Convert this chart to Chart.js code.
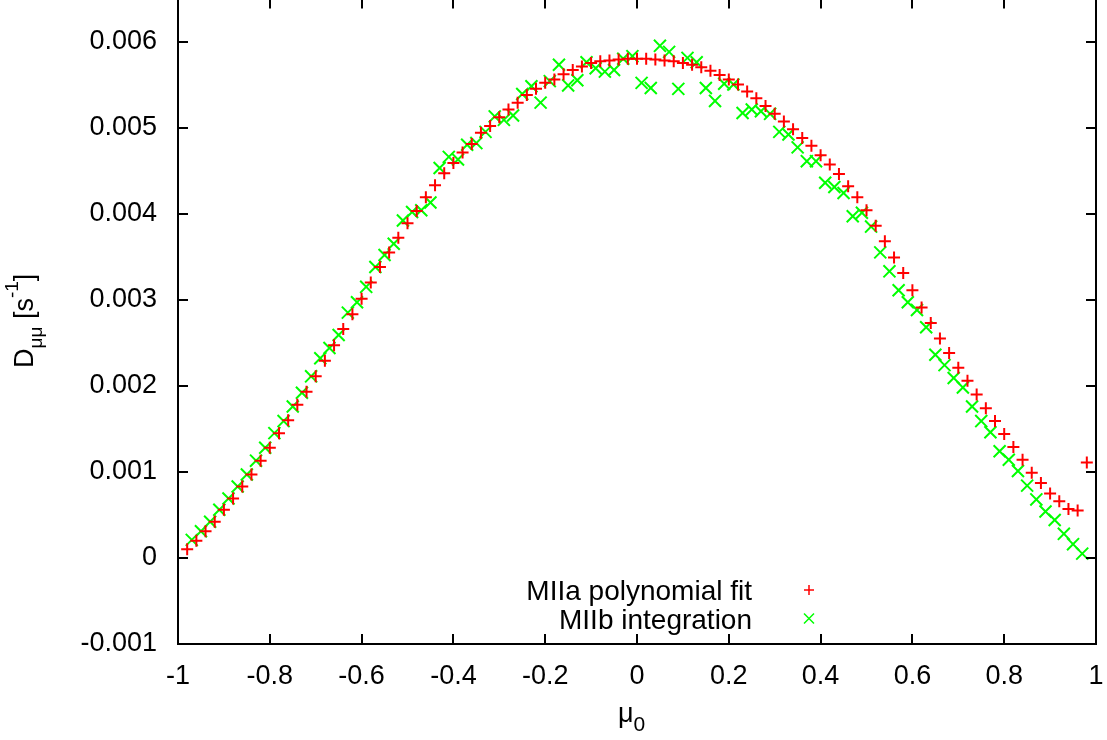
<!DOCTYPE html>
<html>
<head>
<meta charset="utf-8">
<script src="https://cdn.jsdelivr.net/npm/chart.js@4.4.0/dist/chart.umd.min.js"></script>
<style>
  html, body { margin: 0; padding: 0; background: #fff; overflow: hidden; }
  #wrap { position: absolute; left: 0; top: -12px; width: 1107px; height: 752px; }
</style>
</head>
<body>
<div id="wrap"><canvas id="myCanvas" width="1107" height="752"></canvas></div>
<script>
// tick values
const xTicks = [-1, -0.8, -0.6, -0.4, -0.2, 0, 0.2, 0.4, 0.6, 0.8, 1];
const yTicks = [-0.001, 0, 0.001, 0.002, 0.003, 0.004, 0.005, 0.006];

const seriesNames = ['MIIa polynomial fit', 'MIIb integration'];

// MIIa polynomial fit
const fitMu = [-0.98, -0.96, -0.94, -0.92, -0.90, -0.88, -0.86, -0.84, -0.82, -0.80,
  -0.78, -0.76, -0.74, -0.72, -0.70, -0.68, -0.66, -0.64, -0.62, -0.60,
  -0.58, -0.56, -0.54, -0.52, -0.50, -0.48, -0.46, -0.44, -0.42, -0.40,
  -0.38, -0.36, -0.34, -0.32, -0.30, -0.28, -0.26, -0.24, -0.22, -0.20,
  -0.18, -0.16, -0.14, -0.12, -0.10, -0.08, -0.06, -0.04, -0.02, 0,
  0.02, 0.04, 0.06, 0.08, 0.10, 0.12, 0.14, 0.16, 0.18, 0.20,
  0.22, 0.24, 0.26, 0.28, 0.30, 0.32, 0.34, 0.36, 0.38, 0.40,
  0.42, 0.44, 0.46, 0.48, 0.50, 0.52, 0.54, 0.56, 0.58, 0.60,
  0.62, 0.64, 0.66, 0.68, 0.70, 0.72, 0.74, 0.76, 0.78, 0.80,
  0.82, 0.84, 0.86, 0.88, 0.90, 0.92, 0.94, 0.96, 0.98];
const fitD = [0.00010, 0.00020, 0.00031, 0.00042, 0.00056, 0.00069, 0.00083, 0.00097, 0.00113, 0.00128,
  0.00145, 0.00160, 0.00178, 0.00193, 0.00211, 0.00229, 0.00247, 0.00266, 0.00283, 0.00301,
  0.00320, 0.00338, 0.00355, 0.00372, 0.00389, 0.00403, 0.00419, 0.00433, 0.00447, 0.00459,
  0.00471, 0.00481, 0.00494, 0.00502, 0.00512, 0.00521, 0.00529, 0.00538, 0.00545, 0.00552,
  0.00556, 0.00562, 0.00567, 0.00571, 0.00575, 0.00577, 0.00578, 0.00579, 0.00580, 0.00580,
  0.00580, 0.00579, 0.00578, 0.00577, 0.00575, 0.00573, 0.00570, 0.00566, 0.00561, 0.00556,
  0.00550, 0.00542, 0.00534, 0.00525, 0.00516, 0.00507, 0.00498, 0.00488, 0.00479, 0.00468,
  0.00457, 0.00446, 0.00432, 0.00419, 0.00404, 0.00386, 0.00368, 0.00349, 0.00331, 0.00311,
  0.00291, 0.00273, 0.00255, 0.00238, 0.00221, 0.00206, 0.00190, 0.00174, 0.00159, 0.00144,
  0.00129, 0.00114, 0.00099, 0.00087, 0.00075, 0.00066, 0.00057, 0.00055, 0.00111];

// MIIb integration
const intMu = [-0.97, -0.95, -0.93, -0.91, -0.89, -0.87, -0.85, -0.83, -0.81, -0.79,
  -0.77, -0.75, -0.73, -0.71, -0.69, -0.67, -0.65, -0.63, -0.61, -0.59,
  -0.57, -0.55, -0.53, -0.51, -0.49, -0.47, -0.45, -0.43, -0.41, -0.39,
  -0.37, -0.35, -0.33, -0.31, -0.29, -0.27, -0.25, -0.23, -0.21, -0.19,
  -0.17, -0.15, -0.13, -0.11, -0.09, -0.07, -0.05, -0.03, -0.01, 0.01,
  0.03, 0.05, 0.07, 0.09, 0.11, 0.13, 0.15, 0.17, 0.19, 0.21,
  0.23, 0.25, 0.27, 0.29, 0.31, 0.33, 0.35, 0.37, 0.39, 0.41,
  0.43, 0.45, 0.47, 0.49, 0.51, 0.53, 0.55, 0.57, 0.59, 0.61,
  0.63, 0.65, 0.67, 0.69, 0.71, 0.73, 0.75, 0.77, 0.79, 0.81,
  0.83, 0.85, 0.87, 0.89, 0.91, 0.93, 0.95, 0.97];
const intD = [0.00021, 0.00031, 0.00042, 0.00056, 0.00069, 0.00083, 0.00097, 0.00113, 0.00128, 0.00145,
  0.00159, 0.00176, 0.00192, 0.00211, 0.00232, 0.00244, 0.00259, 0.00285, 0.00297, 0.00315,
  0.00338, 0.00352, 0.00365, 0.00392, 0.00402, 0.00404, 0.00413, 0.00453, 0.00466, 0.00463,
  0.00480, 0.00482, 0.00495, 0.00513, 0.00509, 0.00514, 0.00539, 0.00548, 0.00529, 0.00554,
  0.00573, 0.00549, 0.00555, 0.00576, 0.00569, 0.00565, 0.00567, 0.00580, 0.00583, 0.00552,
  0.00546, 0.00595, 0.00588, 0.00545, 0.00581, 0.00576, 0.00546, 0.00531, 0.00551, 0.00550,
  0.00517, 0.00521, 0.00519, 0.00516, 0.00495, 0.00492, 0.00477, 0.00461, 0.00461, 0.00436,
  0.00431, 0.00424, 0.00397, 0.00401, 0.00385, 0.00355, 0.00333, 0.00311, 0.00297, 0.00288,
  0.00268, 0.00236, 0.00224, 0.00209, 0.00198, 0.00176, 0.00159, 0.00146, 0.00124, 0.00114,
  0.00101, 0.00084, 0.00068, 0.00054, 0.00044, 0.00028, 0.00016, 0.00005];

const FONT = 'Liberation Sans';
Chart.defaults.font.family = FONT;
Chart.defaults.color = '#000';

function drawMark(ctx, style, x, y, r){
  ctx.beginPath();
  if(style === 'cross'){
    ctx.moveTo(x - r, y); ctx.lineTo(x + r, y);
    ctx.moveTo(x, y - r); ctx.lineTo(x, y + r);
  }else{
    ctx.moveTo(x - r, y - r); ctx.lineTo(x + r, y + r);
    ctx.moveTo(x - r, y + r); ctx.lineTo(x + r, y - r);
  }
  ctx.stroke();
}

// box, inward ticks on all sides, legend and axis titles (gnuplot look)
const framePlugin = {
  id: 'frame',
  afterDraw(chart){
    const ctx = chart.ctx;
    const a = chart.chartArea;
    const xs = chart.scales.x, ys = chart.scales.y;
    // page offset of the canvas (it sits 12px above the page top)
    const off = 12;
    ctx.save();
    ctx.strokeStyle = '#000';
    ctx.lineWidth = 2;
    ctx.beginPath();
    xTicks.forEach(v => {
      const p = Math.round(xs.getPixelForValue(v));
      ctx.moveTo(p, a.bottom); ctx.lineTo(p, a.bottom - 10);
      ctx.moveTo(p, a.top); ctx.lineTo(p, a.top + 10);
    });
    yTicks.forEach(v => {
      const p = Math.round(ys.getPixelForValue(v));
      ctx.moveTo(a.left, p); ctx.lineTo(a.left + 10, p);
      ctx.moveTo(a.right, p); ctx.lineTo(a.right - 10, p);
    });
    ctx.stroke();
    ctx.strokeRect(a.left, a.top, a.right - a.left, a.bottom - a.top);

    // legend
    ctx.font = '28px "' + FONT + '"';
    ctx.fillStyle = '#000';
    ctx.textAlign = 'right';
    ctx.textBaseline = 'alphabetic';
    chart.data.datasets.forEach((ds, i) => {
      const base = 600 + off + i * 28.5;
      ctx.fillText(ds.label, 752, base);
      ctx.strokeStyle = ds.borderColor;
      ctx.lineWidth = 1.5;
      drawMark(ctx, ds.pointStyle, 809, base - 10, 5);
    });

    // x title: mu_0
    ctx.fillStyle = '#000';
    ctx.textAlign = 'left';
    ctx.font = '27px "' + FONT + '"';
    ctx.fillText('\u03bc', 618, 722 + off);
    const wMu = ctx.measureText('\u03bc').width;
    ctx.font = '21px "' + FONT + '"';
    ctx.fillText('0', 618 + wMu, 731 + off);

    // y title: D_mumu [s^-1]
    ctx.translate(33, 368 + off);
    ctx.rotate(-Math.PI / 2);
    let cx = 0;
    const seg = (txt, size, dy) => {
      ctx.font = size + 'px "' + FONT + '"';
      ctx.fillText(txt, cx, dy);
      cx += ctx.measureText(txt).width;
    };
    seg('D', 27, 0);
    seg('\u03bc\u03bc', 19, 9);
    seg(' [s', 27, 0);
    seg('-1', 19, -15);
    seg(']', 27, 0);
    ctx.restore();
  }
};

const ctx = document.getElementById('myCanvas');
const myChart = new Chart(ctx, {
  type: 'scatter',
  data: {
    datasets: [{
      label: seriesNames[0],
      data: fitMu.map((m, i) => ({x: m, y: fitD[i]})),
      pointStyle: 'cross',
      pointRadius: 6,
      pointBorderWidth: 2,
      borderColor: 'rgb(255,0,0)',
      backgroundColor: 'rgb(255,0,0)'
    }, {
      label: seriesNames[1],
      data: intMu.map((m, i) => ({x: m, y: intD[i]})),
      pointStyle: 'crossRot',
      pointRadius: 8.5,
      pointBorderWidth: 2,
      borderColor: 'rgb(0,255,0)',
      backgroundColor: 'rgb(0,255,0)'
    }]
  },
  options: {
    responsive: false,
    animation: false,
    devicePixelRatio: 1,
    layout: {padding: {left: 0, right: 11, top: 0, bottom: 0}},
    plugins: {legend: {display: false}, tooltip: {enabled: false}},
    scales: {
      x: {
        type: 'linear', min: -1, max: 1,
        grid: {display: false, drawTicks: false},
        border: {display: false},
        ticks: {
          font: {size: 27}, padding: 16, maxRotation: 0,
          callback: v => String(+Number(v).toFixed(1))
        },
        afterBuildTicks: s => { s.ticks = xTicks.map(v => ({value: v})); },
        afterFit: s => { s.height = 96; s.paddingLeft = 0; s.paddingRight = 0; }
      },
      y: {
        type: 'linear', min: -0.001, max: 0.0065,
        grid: {display: false, drawTicks: false},
        border: {display: false},
        ticks: {
          font: {size: 27}, padding: 21,
          callback: v => String(+Number(v).toFixed(3))
        },
        afterBuildTicks: s => { s.ticks = yTicks.map(v => ({value: v})); },
        afterFit: s => { s.width = 178; s.paddingTop = 0; s.paddingBottom = 0; }
      }
    }
  },
  plugins: [framePlugin]
});
</script>
</body>
</html>
